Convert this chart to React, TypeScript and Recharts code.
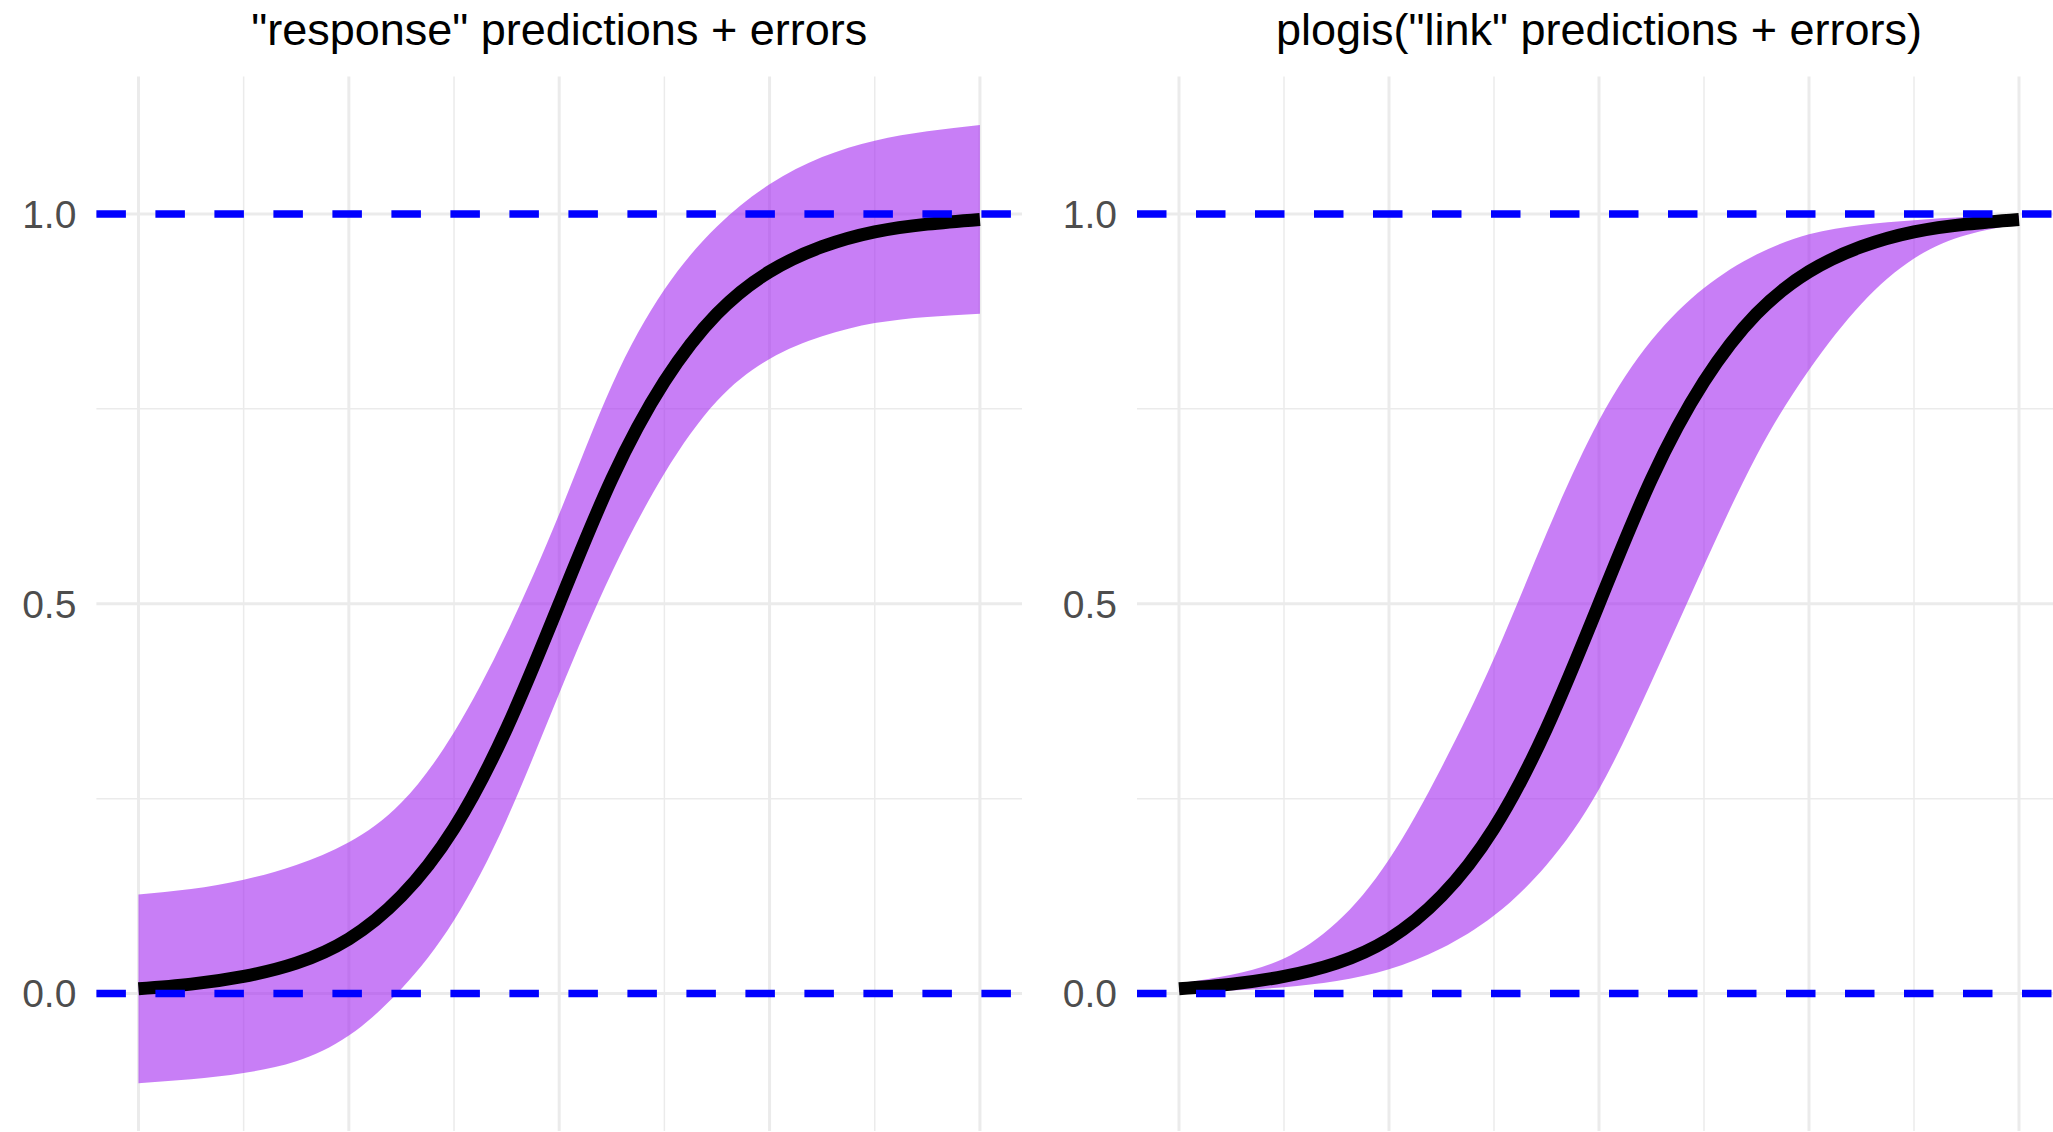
import React from 'react';
import {
  ComposedChart,
  Area,
  Line,
  XAxis,
  YAxis,
  CartesianGrid,
  ReferenceLine,
} from 'recharts';

// Prediction grid (x positions of the fitted curve)
const xValues = [0, 0.5, 1, 1.5, 2, 2.5, 3, 3.5, 4, 4.5, 5, 5.5, 6, 6.5, 7, 7.5, 8];

// Fitted probability (same model in both panels)
const fitted = [
  0.006, 0.012, 0.022, 0.039, 0.07, 0.125, 0.212, 0.34, 0.5,
  0.66, 0.785, 0.872, 0.926, 0.958, 0.977, 0.987, 0.993,
];

// Interval built on the response scale
const responseLower = [
  -0.115, -0.11, -0.102, -0.087, -0.054, 0.006, 0.094, 0.223, 0.385,
  0.54, 0.667, 0.76, 0.814, 0.843, 0.86, 0.868, 0.872,
];
const responseUpper = [
  0.127, 0.134, 0.146, 0.165, 0.194, 0.245, 0.335, 0.462, 0.615,
  0.78, 0.903, 0.984, 1.038, 1.073, 1.094, 1.106, 1.114,
];

// Interval built on the link scale, back-transformed
const linkLower = [
  0.002, 0.004, 0.008, 0.016, 0.031, 0.058, 0.1, 0.165, 0.262,
  0.4, 0.549, 0.69, 0.8, 0.885, 0.943, 0.973, 0.987,
];
const linkUpper = [
  0.013, 0.024, 0.045, 0.091, 0.172, 0.29, 0.43, 0.59, 0.735,
  0.838, 0.905, 0.948, 0.974, 0.986, 0.992, 0.996, 0.998,
];

const panelTitles = ['"response" predictions + errors', 'plogis("link" predictions + errors)'];

const yTickValues = [0, 0.5, 1];
const yTickLabels = ['0.0', '0.5', '1.0'];
const yMinorBreaks = [0.25, 0.75];
const xMajorBreaks = [0, 2, 4, 6, 8];
const xMinorBreaks = [1, 3, 5, 7];
const boundLines = [0, 1];

const xDomain: [number, number] = [-0.4, 8.4];
const yDomain: [number, number] = [-0.1765, 1.1765];

const FONT = '"Liberation Sans", Arial, Helvetica, sans-serif';
const GRID = '#EBEBEB';

const buildRows = (lower: number[], upper: number[]) =>
  xValues.map((x, i) => ({ x, fit: fitted[i], band: [lower[i], upper[i]] }));

type PanelProps = {
  left: number;
  width: number;
  axisWidth: number;
  rightMargin: number;
  title: string;
  lower: number[];
  upper: number[];
};

const CHART_H = 1132;
const PLOT_TOP = 76.4;
const PLOT_BOTTOM_GAP = 0.9;

function Panel({ left, width, axisWidth, rightMargin, title, lower, upper }: PanelProps) {
  const rows = buildRows(lower, upper);
  const plotLeft = left + axisWidth;
  const plotWidth = width - axisWidth - rightMargin;
  return (
    <>
      <div
        style={{
          position: 'absolute',
          left: plotLeft,
          width: plotWidth,
          top: 7.4,
          lineHeight: '45px',
          fontSize: 45,
          fontFamily: FONT,
          color: '#000',
          textAlign: 'center',
          whiteSpace: 'nowrap',
        }}
      >
        {title}
      </div>
      <div style={{ position: 'absolute', left, top: 0 }}>
        <ComposedChart
          width={width}
          height={CHART_H}
          data={rows}
          margin={{ top: PLOT_TOP, bottom: PLOT_BOTTOM_GAP, left: 0, right: rightMargin }}
        >
          <CartesianGrid
            stroke={GRID}
            strokeWidth={1.5}
            horizontalValues={yMinorBreaks}
            verticalValues={xMinorBreaks}
            fill="none"
          />
          <CartesianGrid
            stroke={GRID}
            strokeWidth={3}
            horizontalValues={yTickValues}
            verticalValues={xMajorBreaks}
            fill="none"
          />
          <XAxis
            dataKey="x"
            type="number"
            domain={xDomain}
            allowDataOverflow
            hide
          />
          <YAxis
            type="number"
            domain={yDomain}
            allowDataOverflow
            ticks={yTickValues}
            width={axisWidth}
            axisLine={false}
            tickLine={false}
            tickSize={0}
            tickMargin={20}
            tickFormatter={(v: number) => yTickLabels[yTickValues.indexOf(v)]}
            tick={{ fill: '#4D4D4D', fontSize: 39, fontFamily: FONT }}
            interval={0}
          />
          <Area
            dataKey="band"
            type="natural"
            stroke="none"
            fill="#A020F0"
            fillOpacity={0.58}
            isAnimationActive={false}
            activeDot={false}
          />
          <Line
            dataKey="fit"
            type="natural"
            stroke="#000000"
            strokeWidth={13}
            dot={false}
            activeDot={false}
            isAnimationActive={false}
          />
          {boundLines.map((v) => (
            <ReferenceLine
              key={v}
              y={v}
              stroke="#0000FF"
              strokeWidth={7.5}
              strokeDasharray="29.5 29.5"
            />
          ))}
        </ComposedChart>
      </div>
    </>
  );
}

export default function App() {
  return (
    <div
      style={{
        position: 'absolute',
        left: 0,
        top: 0,
        width: 2053,
        height: 1132,
        overflow: 'hidden',
        background: '#FFFFFF',
      }}
    >
      <Panel
        left={0}
        width={1030}
        axisWidth={96.4}
        rightMargin={8}
        title={panelTitles[0]}
        lower={responseLower}
        upper={responseUpper}
      />
      <Panel
        left={1030}
        width={1031}
        axisWidth={107}
        rightMargin={0}
        title={panelTitles[1]}
        lower={linkLower}
        upper={linkUpper}
      />
    </div>
  );
}
